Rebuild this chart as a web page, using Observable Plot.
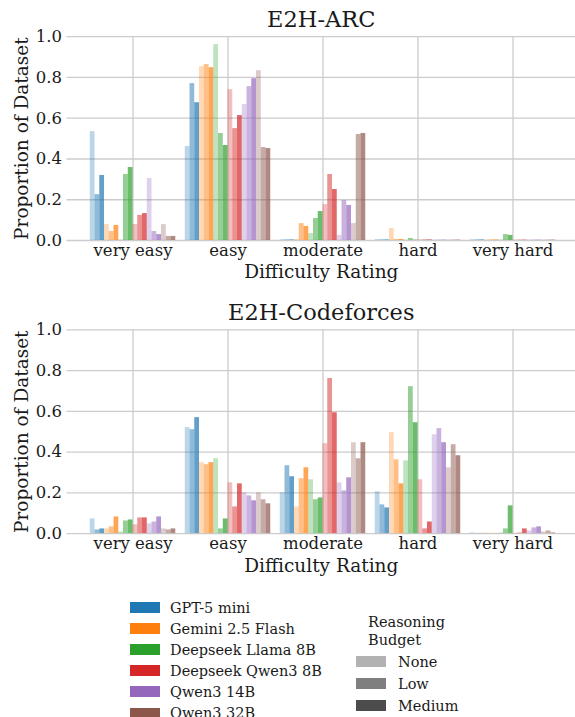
<!DOCTYPE html>
<html><head><meta charset="utf-8">
<script src="https://cdn.jsdelivr.net/npm/d3@7"></script>
<script src="https://cdn.jsdelivr.net/npm/@observablehq/plot@0.6"></script>
<style>
body{margin:0;background:#fff;font-family:"DejaVu Serif",serif;color:#1a1a1a;}
#wrap{position:relative;width:575px;height:717px;overflow:hidden;}
#wrap svg{display:block;}
.sw{position:absolute;width:30px;height:11px;}
.lt{position:absolute;font-size:14.5px;line-height:16px;white-space:nowrap;}
</style></head>
<body><div id="wrap"></div>
<script>
const categories = ["very easy","easy","moderate","hard","very hard"];
const models = ["GPT-5 mini","Gemini 2.5 Flash","Deepseek Llama 8B","Deepseek Qwen3 8B","Qwen3 14B","Qwen3 32B"];
const modelColors = ["#1f77b4","#ff7f0e","#2ca02c","#d62728","#9467bd","#8c564b"];
const budgets = ["None","Low","Medium"];
const budgetOpacity = [0.3,0.5,0.7];
const yTicks = [0,0.2,0.4,0.6,0.8,1.0];

// E2H-ARC: rows = budget (None, Low, Medium), columns = categories
const arcGpt5Mini   = [[0.534,0.461,0.003,0.004,0.003],[0.225,0.770,0.003,0.003,0.003],[0.319,0.676,0.003,0.003,0.003]];
const arcGemini     = [[0.078,0.853,0.005,0.059,0.003],[0.044,0.863,0.083,0.005,0.003],[0.074,0.848,0.069,0.005,0.003]];
const arcDsLlama8B  = [[0.002,0.961,0.034,0.002,0.002],[0.324,0.525,0.108,0.010,0.029],[0.358,0.466,0.142,0.002,0.025]];
const arcDsQwen8B   = [[0.078,0.740,0.176,0.003,0.002],[0.123,0.549,0.324,0.003,0.002],[0.132,0.613,0.250,0.003,0.002]];
const arcQwen14B    = [[0.304,0.667,0.025,0.002,0.002],[0.044,0.755,0.196,0.002,0.002],[0.029,0.794,0.172,0.002,0.002]];
const arcQwen32B    = [[0.078,0.833,0.083,0.002,0.002],[0.020,0.456,0.520,0.002,0.002],[0.020,0.451,0.525,0.002,0.002]];

// E2H-Codeforces
const cfGpt5Mini    = [[0.072,0.520,0.200,0.205,0.003],[0.018,0.510,0.333,0.141,0.001],[0.023,0.569,0.279,0.126,0.001]];
const cfGemini      = [[0.023,0.348,0.131,0.495,0.003],[0.033,0.338,0.269,0.362,0.001],[0.082,0.348,0.323,0.244,0.001]];
const cfDsLlama8B   = [[0.008,0.367,0.264,0.357,0.003],[0.062,0.023,0.166,0.721,0.023],[0.067,0.072,0.175,0.544,0.136]];
const cfDsQwen8B    = [[0.043,0.249,0.441,0.264,0.001],[0.077,0.131,0.761,0.023,0.003],[0.077,0.244,0.593,0.057,0.023]];
const cfQwen14B     = [[0.048,0.200,0.249,0.485,0.013],[0.057,0.185,0.210,0.515,0.028],[0.082,0.161,0.274,0.446,0.033]];
const cfQwen32B     = [[0.023,0.200,0.446,0.323,0.008],[0.018,0.166,0.367,0.436,0.013],[0.023,0.146,0.446,0.382,0.003]];

const barW = 0.05;

function rgba(hex, a){ const c = d3.color(hex); c.opacity = a; return c.formatRgb(); }

function panel(title, tables, marginTop){
  const data = [];
  tables.forEach((t, m) => t.forEach((vals, b) => vals.forEach((v, c) => {
    const k = m * 3 + b;
    data.push({c, m, b, v, x1: c + (k - 9) * barW, x2: c + (k - 8) * barW, fill: rgba(modelColors[m], budgetOpacity[b])});
  })));
  const plotH = 203.8;
  return Plot.plot({
    width: 575, height: marginTop + plotH + 50,
    marginTop, marginBottom: 50, marginLeft: 66.5, marginRight: 0,
    style: {fontFamily: "DejaVu Serif", fontSize: "16.5px", color: "#1a1a1a", background: "white"},
    color: {type: "identity"},
    x: {domain: [-0.695, 4.695], range: [66.5, 578.5], ticks: d3.range(5), tickFormat: i => categories[i], tickSize: 0, tickPadding: 4, label: null},
    y: {domain: [0, 1], ticks: yTicks, tickFormat: d3.format(".1f"), tickSize: 0, tickPadding: 5, label: null},
    marks: [
      Plot.ruleY(yTicks, {stroke: "#cccccc", strokeWidth: 1.3}),
      Plot.ruleX(d3.range(5), {stroke: "#cccccc", strokeWidth: 1.3}),
      Plot.rect(data, {x1: "x1", x2: "x2", y1: 0, y2: "v", fill: "fill", inset: 0}),
      Plot.text([title], {frameAnchor: "top", textAnchor: "middle", lineAnchor: "middle", dy: -17, fontSize: 22.5, fill: "#1a1a1a"}),
      Plot.text(["Difficulty Rating"], {frameAnchor: "bottom", textAnchor: "middle", lineAnchor: "middle", dy: 32, fontSize: 18.5, fill: "#1a1a1a"}),
      Plot.text(["Proportion of Dataset"], {frameAnchor: "left", textAnchor: "middle", lineAnchor: "middle", rotate: -90, dx: -45, fontSize: 18.5, fill: "#1a1a1a"})
    ]
  });
}

const wrap = document.getElementById("wrap");
wrap.appendChild(panel("E2H-ARC", [arcGpt5Mini, arcGemini, arcDsLlama8B, arcDsQwen8B, arcQwen14B, arcQwen32B], 36.2));
const p2 = panel("E2H-Codeforces", [cfGpt5Mini, cfGemini, cfDsLlama8B, cfDsQwen8B, cfQwen14B, cfQwen32B], 39.3);
wrap.appendChild(p2);

// legends
function add(cls, left, top, css, text){
  const d = document.createElement("div");
  d.className = cls; d.style.left = left + "px"; d.style.top = top + "px";
  Object.assign(d.style, css || {});
  if (text) d.textContent = text;
  wrap.appendChild(d);
}
models.forEach((m, i) => {
  const y = 602 + i * 21.1;
  add("sw", 130, y, {background: modelColors[i]});
  add("lt", 170, y - 2.5, null, m);
});
add("lt", 368, 614, null, "Reasoning");
add("lt", 368, 631.5, null, "Budget");
budgets.forEach((b, i) => {
  const y = 656 + i * 22;
  add("sw", 356, y, {background: rgba("#000000", budgetOpacity[i])});
  add("lt", 398, y - 2.5, null, b);
});
</script></body></html>
